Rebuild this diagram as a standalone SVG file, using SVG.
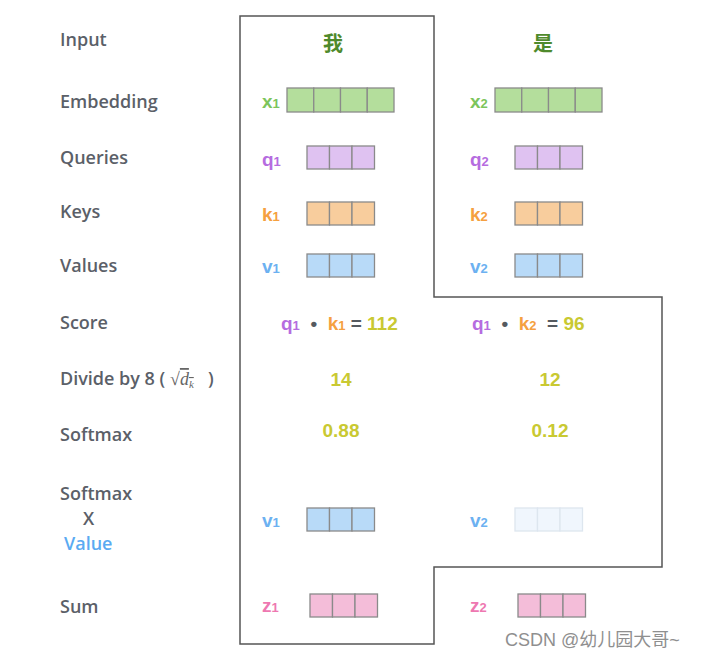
<svg xmlns="http://www.w3.org/2000/svg" width="702" height="659" viewBox="0 0 702 659">
<style>
.lbl{font-family:"Open Sans","Noto Sans",sans-serif;font-size:18px;font-weight:600;fill:#5b6068}
.sym{font-family:"Liberation Sans",Arial,sans-serif;font-size:19px;font-weight:bold}
.sub{font-size:13px}
.cjk{font-family:"Noto Sans CJK SC",sans-serif;font-size:20px;font-weight:bold;fill:#4f8a2c}
.num{font-family:"Liberation Sans",Arial,sans-serif;font-size:19px;font-weight:bold;fill:#c9c932}
.cell{stroke:#8a8a8a;stroke-width:1.3}
.g{fill:#b4de9c}.p{fill:#dfc2f1}.o{fill:#f8cd9d}.b{fill:#b8daf8}.k{fill:#f4bdd9}
.f{fill:#f0f6fd;stroke:#dde6ef;stroke-width:1.3}
.cx{fill:#7cc55c}.cq{fill:#b66ce0}.ck{fill:#f5a040}.cv{fill:#6cb1f1}.cz{fill:#ee78b1}
.op{fill:#555a60}
.outline{fill:none;stroke:#555;stroke-width:1.5}
</style>
<defs>
<g id="v4">
<rect class="cell" x="0" y="0" width="26.75" height="24"/>
<rect class="cell" x="26.75" y="0" width="26.75" height="24"/>
<rect class="cell" x="53.5" y="0" width="26.75" height="24"/>
<rect class="cell" x="80.25" y="0" width="26.75" height="24"/>
</g>
<g id="v3">
<rect class="cell" x="0" y="0" width="22.5" height="23"/>
<rect class="cell" x="22.5" y="0" width="22.5" height="23"/>
<rect class="cell" x="45" y="0" width="22.5" height="23"/>
</g>
</defs>
<rect width="702" height="659" fill="#fff"/>
<g id="connectors">
<path class="outline" d="M240,16 H434 V297 H662 V567 H434 V644 H240 Z"/>
</g>
<g id="row-labels">
<text class="lbl" x="60" y="46">Input</text>
<text class="lbl" x="60" y="108">Embedding</text>
<text class="lbl" x="60" y="164">Queries</text>
<text class="lbl" x="60" y="218">Keys</text>
<text class="lbl" x="60" y="272">Values</text>
<text class="lbl" x="60" y="329">Score</text>
<text class="lbl" x="60" y="385">Divide by 8 (</text>
<text x="170" y="385" font-family="'Liberation Serif',serif" font-size="18" fill="#666">√<tspan font-style="italic" text-decoration="overline">d<tspan font-size="11" dy="3">k</tspan></tspan></text>
<text class="lbl" x="208" y="385">)</text>
<text class="lbl" x="60" y="441">Softmax</text>
<text class="lbl" x="60" y="500">Softmax</text>
<text class="lbl" x="83" y="525">X</text>
<text class="lbl" x="64" y="550" style="fill:#5aaaf2">Value</text>
<text class="lbl" x="60" y="613">Sum</text>
</g>
<g id="word1">
<text class="cjk" x="333" y="51" text-anchor="middle">我</text>
<text class="sym cx" x="262" y="108">x<tspan class="sub">1</tspan></text>
<g class="g"><use href="#v4" x="287" y="88"/></g>
<text class="sym cq" x="262" y="166">q<tspan class="sub">1</tspan></text>
<g class="p"><use href="#v3" x="307" y="146"/></g>
<text class="sym ck" x="262" y="221">k<tspan class="sub">1</tspan></text>
<g class="o"><use href="#v3" x="307" y="202"/></g>
<text class="sym cv" x="262" y="273">v<tspan class="sub">1</tspan></text>
<g class="b"><use href="#v3" x="307" y="254"/></g>
<text class="sym" x="281" y="330" xml:space="preserve"><tspan class="cq">q<tspan class="sub">1</tspan></tspan><tspan class="op">  •  </tspan><tspan class="ck">k<tspan class="sub">1</tspan></tspan><tspan class="op"> = </tspan><tspan style="fill:#c9c932">112</tspan></text>
<text class="num" x="341" y="386" text-anchor="middle">14</text>
<text class="num" x="341" y="437" text-anchor="middle">0.88</text>
<text class="sym cv" x="262" y="527">v<tspan class="sub">1</tspan></text>
<g class="b"><use href="#v3" x="307" y="508"/></g>
<text class="sym cz" x="262" y="612">z<tspan class="sub">1</tspan></text>
<g class="k"><use href="#v3" x="310" y="594"/></g>
</g>
<g id="word2">
<text class="cjk" x="543" y="51" text-anchor="middle">是</text>
<text class="sym cx" x="470" y="108">x<tspan class="sub">2</tspan></text>
<g class="g"><use href="#v4" x="495" y="88"/></g>
<text class="sym cq" x="470" y="166">q<tspan class="sub">2</tspan></text>
<g class="p"><use href="#v3" x="515" y="146"/></g>
<text class="sym ck" x="470" y="221">k<tspan class="sub">2</tspan></text>
<g class="o"><use href="#v3" x="515" y="202"/></g>
<text class="sym cv" x="470" y="273">v<tspan class="sub">2</tspan></text>
<g class="b"><use href="#v3" x="515" y="254"/></g>
<text class="sym" x="472" y="330" xml:space="preserve"><tspan class="cq">q<tspan class="sub">1</tspan></tspan><tspan class="op">  •  </tspan><tspan class="ck">k<tspan class="sub">2</tspan></tspan><tspan class="op">  = </tspan><tspan style="fill:#c9c932">96</tspan></text>
<text class="num" x="550" y="386" text-anchor="middle">12</text>
<text class="num" x="550" y="437" text-anchor="middle">0.12</text>
<text class="sym cv" x="470" y="527">v<tspan class="sub">2</tspan></text>
<g>
<rect class="f" x="515" y="508" width="22.5" height="23"/>
<rect class="f" x="537.5" y="508" width="22.5" height="23"/>
<rect class="f" x="560" y="508" width="22.5" height="23"/>
</g>
<text class="sym cz" x="470" y="612">z<tspan class="sub">2</tspan></text>
<g class="k"><use href="#v3" x="518" y="594"/></g>
</g>
<text x="505" y="646" font-family="'Liberation Sans','Noto Sans CJK SC',sans-serif" font-size="18" fill="#8f8f8f">CSDN @幼儿园大哥~</text>
</svg>
